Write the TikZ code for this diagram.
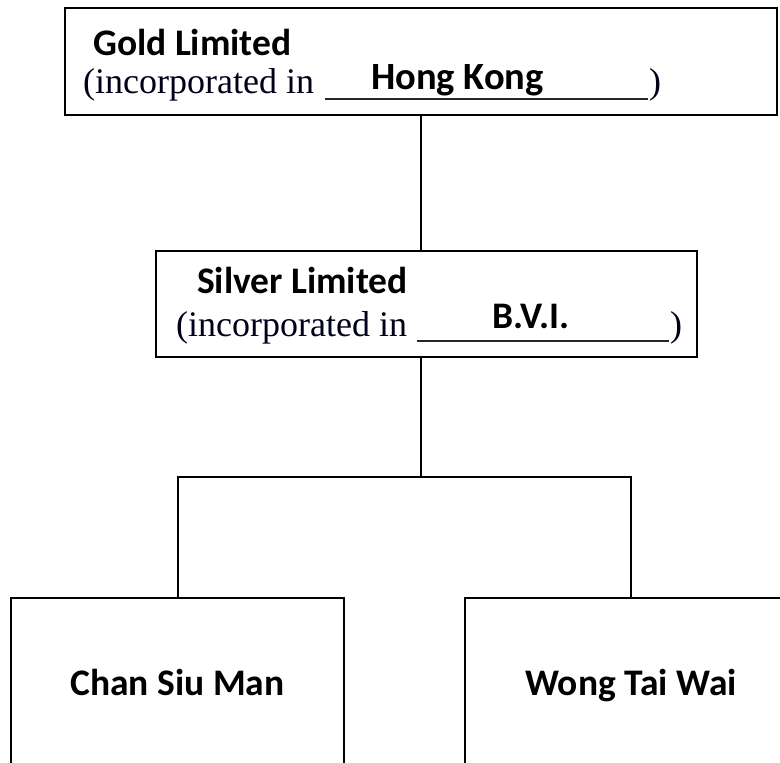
\documentclass[tikz,border=0pt]{standalone}
\usepackage{fontspec}
\setmainfont{Liberation Serif}
\newfontfamily\carlito{Carlito}
\begin{document}
\begin{tikzpicture}[x=1pt,y=-1pt,
  box/.style={draw=black, line width=2pt, inner sep=0pt},
  conn/.style={draw=black, line width=2pt},
  lbl/.style={font=\carlito\bfseries\fontsize{37.5}{40}\selectfont, inner sep=0pt, anchor=base west},
  inctext/.style={font=\fontsize{36}{40}\selectfont, inner sep=0pt, anchor=base west, text=black!90!blue},
  uline/.style={draw=black!85, line width=2pt}]
\useasboundingbox (0,0) rectangle (780,763);
\clip (0,0) rectangle (780,763);
% top box
\node[box, minimum width=712pt, minimum height=107pt] (gold) at (421,61.5) {};
\node[lbl] (goldname) at (93,55) {Gold Limited};
\node[inctext] (goldinc) at (83,93) {(incorporated in};
\draw[uline] (325,98.5) -- (648,98.5);
\node[inctext] (goldpar) at (649,93) {)};
\node[lbl, font=\carlito\bfseries\fontsize{38.5}{40}\selectfont] (goldplace) at (371,89) {Hong Kong};
% middle box
\node[box, minimum width=541pt, minimum height=106pt] (silver) at (426.5,304) {};
\node[lbl] (silvername) at (197,293) {Silver Limited};
\node[inctext] (silverinc) at (176,336) {(incorporated in};
\draw[uline] (417,340.5) -- (669,340.5);
\node[inctext] (silverpar) at (670,336) {)};
\node[lbl] (silverplace) at (492,328) {B.V.I.};
% bottom boxes (open at the bottom edge)
\node[box, minimum width=333pt, minimum height=220pt] (chan) at (177.5,708) {};
\node[box, minimum width=332pt, minimum height=220pt] (wong) at (631,708) {};
\node[lbl, anchor=base] (channame) at (177.5,695) {Chan Siu Man};
\node[lbl, anchor=base] (wongname) at (631,695) {Wong Tai Wai};
% connectors
\coordinate (junction) at (421,477);
\draw[conn] (gold.south) -- (gold.south |- silver.north);
\draw[conn] (silver.south -| gold.south) -- (junction);
\draw[conn] (chan.north) |- (junction) -| (wong.north);
\end{tikzpicture}
\end{document}
